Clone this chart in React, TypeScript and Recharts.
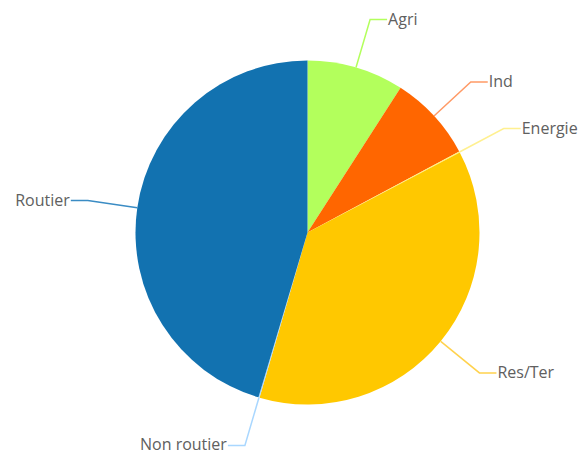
import { Cell, Pie, PieChart } from "recharts";

const categories = ["Agri", "Ind", "Energie", "Res/Ter", "Non routier", "Routier"];
const shares = [9.1, 8.1, 0.1, 37.2, 0.1, 45.4];
const sliceColors = ["#b3ff5c", "#ff6600", "#fff27a", "#ffc800", "#a9d7ff", "#1272b0"];
const lineColors = ["#b3ff5c", "#ff9a66", "#fff090", "#ffd24d", "#a9d7ff", "#3a8cc4"];

const data = categories.map((name, i) => ({ name, value: shares[i] }));

const RADIAN = Math.PI / 180;

function renderLabel(props: any) {
  const { cx, cy, midAngle, outerRadius, index } = props;
  const cos = Math.cos(-midAngle * RADIAN);
  const sin = Math.sin(-midAngle * RADIAN);
  const x0 = cx + outerRadius * cos;
  const y0 = cy + outerRadius * sin;
  const x1 = cx + (outerRadius + 50) * cos;
  const y1 = cy + (outerRadius + 50) * sin;
  const right = cos >= 0;
  const x2 = x1 + (right ? 17 : -17);
  return (
    <g>
      <polyline
        points={`${x0},${y0} ${x1},${y1} ${x2},${y1}`}
        fill="none"
        stroke={lineColors[index]}
        strokeWidth={1.5}
      />
      <text
        x={x2 + (right ? 1 : -1)}
        y={y1 - 1}
        textAnchor={right ? "start" : "end"}
        dominantBaseline="central"
        fill="#606060"
        fontSize={16}
        fontFamily="'Open Sans', sans-serif"
      >
        {categories[index]}
      </text>
    </g>
  );
}

export default function App() {
  return (
    <div style={{ position: "absolute", left: 0, top: 0, width: 584, height: 455, background: "#fff" }}>
      <PieChart width={584} height={455} margin={{ top: 0, right: 0, bottom: 0, left: 0 }}>
        <Pie
          data={data}
          dataKey="value"
          nameKey="name"
          cx={307.5}
          cy={232.5}
          outerRadius={172}
          startAngle={90}
          endAngle={-270}
          stroke="none"
          label={renderLabel}
          labelLine={false}
          isAnimationActive={false}
        >
          {data.map((d, i) => (
            <Cell key={d.name} fill={sliceColors[i]} />
          ))}
        </Pie>
      </PieChart>
    </div>
  );
}
